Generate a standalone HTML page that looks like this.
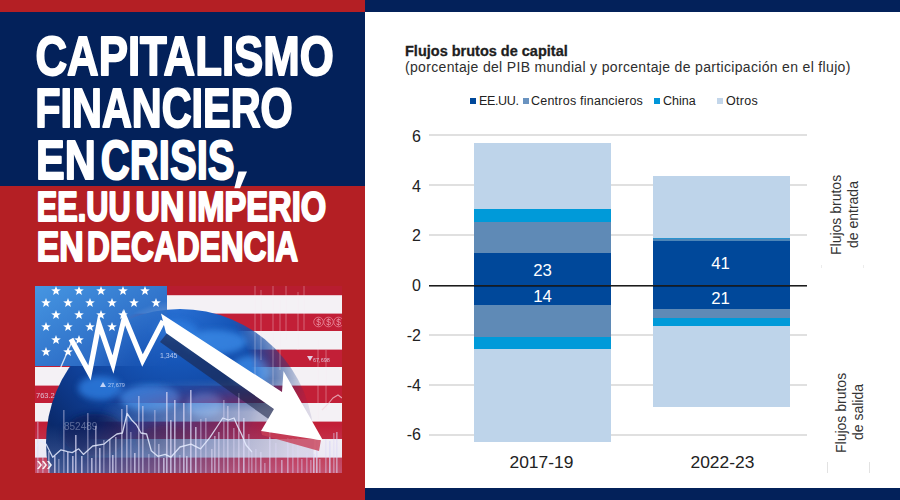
<!DOCTYPE html>
<html><head><meta charset="utf-8">
<style>
*{margin:0;padding:0;box-sizing:border-box}
html,body{width:900px;height:500px;overflow:hidden;background:#fff}
body{position:relative;font-family:"Liberation Sans",sans-serif}
.abs{position:absolute}
#left{left:0;top:0;width:365px;height:500px;background:#b41f24}
#navy{left:0;top:12px;width:365px;height:173.7px;background:#03215a}
#title{left:0;top:0;width:365px;height:300px}
#photo{left:35px;top:286px;width:307px;height:187px;overflow:hidden}
#topbar{left:365px;top:0;width:535px;height:12px;background:#03215a}
#botbar{left:365px;top:488px;width:535px;height:12px;background:#03215a}
.t{color:#222;white-space:nowrap;position:absolute}
.grid{position:absolute;left:429px;width:378px;height:2px;background:#e0e0e0}
.yl{position:absolute;width:30px;left:391px;text-align:right;font-size:16px;color:#222;line-height:16px}
.seg{position:absolute}
.lab{position:absolute;color:#fff;font-size:16.8px;text-align:center;line-height:16px}
.leg{position:absolute;top:98px;width:6px;height:6px}
.lt{position:absolute;top:94px;font-size:12.5px;color:#222;line-height:14px;white-space:nowrap}
.rot{position:absolute;transform-origin:0 0;transform:rotate(-90deg);font-size:14px;color:#333;white-space:nowrap;line-height:13px}
</style></head><body>
<div id="left" class="abs"></div>
<div id="navy" class="abs"></div>
<svg id="title" class="abs" width="365" height="300" viewBox="0 0 365 300">
<g fill="#fff" stroke="#fff" stroke-linejoin="round" font-family="Liberation Sans" font-weight="bold">
<text x="35.44" y="75.0" font-size="55.5" stroke-width="1.9" textLength="298.36" lengthAdjust="spacingAndGlyphs">CAPITALISMO</text>
<text x="35.28" y="127.3" font-size="56" stroke-width="2" textLength="257.52" lengthAdjust="spacingAndGlyphs">FINANCIERO</text>
<text x="35.92" y="179.1" font-size="56" stroke-width="2" textLength="59.90" lengthAdjust="spacingAndGlyphs">EN</text>
<text x="100.84" y="179.1" font-size="56" stroke-width="2" textLength="133.70" lengthAdjust="spacingAndGlyphs">CRISIS</text>
<text x="36.72" y="221.0" font-size="42" stroke-width="2" textLength="93.88" lengthAdjust="spacingAndGlyphs">EE.UU</text>
<text x="135.62" y="221.0" font-size="42" stroke-width="2" textLength="48.82" lengthAdjust="spacingAndGlyphs">UN</text>
<text x="188.06" y="221.0" font-size="42" stroke-width="2" textLength="138.18" lengthAdjust="spacingAndGlyphs">IMPERIO</text>
<text x="36.72" y="260.5" font-size="42" stroke-width="2" textLength="46.98" lengthAdjust="spacingAndGlyphs">EN</text>
<text x="87.04" y="260.5" font-size="42" stroke-width="2" textLength="211.10" lengthAdjust="spacingAndGlyphs">DECADENCIA</text>
<polygon points="238.5,171.5 247,171.5 240,188.3 234.3,188.3" stroke="none"/>
</g>
</svg>
<svg id="photo" class="abs" width="307" height="187" viewBox="35 286 307 187">
<defs>
<linearGradient id="cg" x1="0" y1="0" x2="1" y2="1"><stop offset="0" stop-color="#4696e2"/><stop offset="1" stop-color="#2058b8"/></linearGradient>
<radialGradient id="co" gradientUnits="userSpaceOnUse" cx="178" cy="385" r="85"><stop offset="0" stop-color="#000"/><stop offset="0.55" stop-color="#555"/><stop offset="1" stop-color="#fff"/></radialGradient>
<mask id="cm"><rect x="35" y="286" width="132" height="80" fill="url(#co)"/></mask>
<radialGradient id="gg" gradientUnits="userSpaceOnUse" cx="175" cy="300" r="175"><stop offset="0" stop-color="#2a72d6"/><stop offset="0.35" stop-color="#1656b8"/><stop offset="0.7" stop-color="#0f3f96"/><stop offset="1" stop-color="#0a2a6c"/></radialGradient>
<radialGradient id="gm" gradientUnits="userSpaceOnUse" cx="140" cy="390" r="172"><stop offset="0" stop-color="#fff"/><stop offset="0.66" stop-color="#fff"/><stop offset="1" stop-color="#000"/></radialGradient>
<mask id="gmask"><rect x="35" y="286" width="307" height="187" fill="url(#gm)"/></mask>
<linearGradient id="dg" gradientUnits="userSpaceOnUse" x1="105" y1="400" x2="235" y2="465"><stop offset="0" stop-color="#000"/><stop offset="1" stop-color="#fff"/></linearGradient>
<linearGradient id="vg" gradientUnits="userSpaceOnUse" x1="0" y1="378" x2="0" y2="412"><stop offset="0" stop-color="#000" stop-opacity="1"/><stop offset="1" stop-color="#000" stop-opacity="0"/></linearGradient>
<mask id="mk"><rect x="35" y="286" width="307" height="187" fill="url(#dg)"/><rect x="35" y="286" width="307" height="187" fill="url(#vg)"/></mask>
<filter id="bl" x="-30%" y="-30%" width="160%" height="160%"><feGaussianBlur stdDeviation="3"/></filter>
<filter id="bl1"><feGaussianBlur stdDeviation="0.5"/></filter>
<filter id="bl2"><feGaussianBlur stdDeviation="0.35"/></filter>
<clipPath id="gc"><circle cx="180" cy="443" r="134"/></clipPath>
</defs>
<rect x="35" y="286" width="307" height="187" fill="#f4f1f5"/>
<g fill="#c21f37"><rect x="35" y="277.6" width="307" height="17.4"/><rect x="35" y="313.6" width="307" height="17.4"/><rect x="35" y="349.6" width="307" height="17.4"/><rect x="35" y="385.6" width="307" height="17.4"/><rect x="35" y="421.6" width="307" height="17.4"/><rect x="35" y="457.6" width="307" height="17.4"/></g>
<rect x="35" y="286" width="307" height="9.2" fill="#b81d30"/>
<g mask="url(#gmask)">
<circle cx="180" cy="443" r="134" fill="url(#gg)"/>
<g clip-path="url(#gc)" filter="url(#bl)" opacity="0.8">
<ellipse cx="150" cy="398" rx="30" ry="13" fill="#3b8ae6"/>
<ellipse cx="100" cy="388" rx="22" ry="12" fill="#2f7ee0"/>
<ellipse cx="215" cy="342" rx="32" ry="12" fill="#3b8ae6"/>
<ellipse cx="250" cy="372" rx="20" ry="16" fill="#3b8ae6"/>
<ellipse cx="205" cy="405" rx="18" ry="12" fill="#3b8ae6"/>
<ellipse cx="175" cy="330" rx="22" ry="10" fill="#2f7ee0"/>
<ellipse cx="95" cy="435" rx="32" ry="22" fill="#081f58"/>
<ellipse cx="165" cy="440" rx="30" ry="14" fill="#0a2664"/>
</g>
</g>
<g clip-path="url(#gc)" mask="url(#mk)" opacity="0.8"><rect x="35" y="286" width="307" height="187" fill="#d8d4e4"/><g fill="#c01e40"><rect x="35" y="277.6" width="307" height="17.4"/><rect x="35" y="313.6" width="307" height="17.4"/><rect x="35" y="349.6" width="307" height="17.4"/><rect x="35" y="385.6" width="307" height="17.4"/><rect x="35" y="421.6" width="307" height="17.4"/><rect x="35" y="457.6" width="307" height="17.4"/></g></g>
<rect x="35" y="286" width="132" height="80" fill="url(#cg)" mask="url(#cm)"/>
<g fill="#fff" filter="url(#bl1)"><polygon points="56.0,286.0 57.2,289.3 60.8,289.5 58.0,291.6 58.9,295.0 56.0,293.1 53.1,295.0 54.0,291.6 51.2,289.5 54.8,289.3"/><polygon points="79.0,286.0 80.2,289.3 83.8,289.5 81.0,291.6 81.9,295.0 79.0,293.1 76.1,295.0 77.0,291.6 74.2,289.5 77.8,289.3"/><polygon points="101.0,286.0 102.2,289.3 105.8,289.5 103.0,291.6 103.9,295.0 101.0,293.1 98.1,295.0 99.0,291.6 96.2,289.5 99.8,289.3"/><polygon points="123.0,286.0 124.2,289.3 127.8,289.5 125.0,291.6 125.9,295.0 123.0,293.1 120.1,295.0 121.0,291.6 118.2,289.5 121.8,289.3"/><polygon points="145.0,286.0 146.2,289.3 149.8,289.5 147.0,291.6 147.9,295.0 145.0,293.1 142.1,295.0 143.0,291.6 140.2,289.5 143.8,289.3"/><polygon points="46.0,298.0 47.2,301.3 50.8,301.5 48.0,303.6 48.9,307.0 46.0,305.1 43.1,307.0 44.0,303.6 41.2,301.5 44.8,301.3"/><polygon points="68.0,298.0 69.2,301.3 72.8,301.5 70.0,303.6 70.9,307.0 68.0,305.1 65.1,307.0 66.0,303.6 63.2,301.5 66.8,301.3"/><polygon points="90.0,298.0 91.2,301.3 94.8,301.5 92.0,303.6 92.9,307.0 90.0,305.1 87.1,307.0 88.0,303.6 85.2,301.5 88.8,301.3"/><polygon points="112.0,298.0 113.2,301.3 116.8,301.5 114.0,303.6 114.9,307.0 112.0,305.1 109.1,307.0 110.0,303.6 107.2,301.5 110.8,301.3"/><polygon points="134.0,298.0 135.2,301.3 138.8,301.5 136.0,303.6 136.9,307.0 134.0,305.1 131.1,307.0 132.0,303.6 129.2,301.5 132.8,301.3"/><polygon points="156.0,298.0 157.2,301.3 160.8,301.5 158.0,303.6 158.9,307.0 156.0,305.1 153.1,307.0 154.0,303.6 151.2,301.5 154.8,301.3"/><polygon points="56.0,310.0 57.2,313.3 60.8,313.5 58.0,315.6 58.9,319.0 56.0,317.1 53.1,319.0 54.0,315.6 51.2,313.5 54.8,313.3"/><polygon points="79.0,310.0 80.2,313.3 83.8,313.5 81.0,315.6 81.9,319.0 79.0,317.1 76.1,319.0 77.0,315.6 74.2,313.5 77.8,313.3"/><polygon points="101.0,310.0 102.2,313.3 105.8,313.5 103.0,315.6 103.9,319.0 101.0,317.1 98.1,319.0 99.0,315.6 96.2,313.5 99.8,313.3"/><polygon points="123.0,310.0 124.2,313.3 127.8,313.5 125.0,315.6 125.9,319.0 123.0,317.1 120.1,319.0 121.0,315.6 118.2,313.5 121.8,313.3"/><polygon points="46.0,322.0 47.2,325.3 50.8,325.5 48.0,327.6 48.9,331.0 46.0,329.1 43.1,331.0 44.0,327.6 41.2,325.5 44.8,325.3"/><polygon points="68.0,322.0 69.2,325.3 72.8,325.5 70.0,327.6 70.9,331.0 68.0,329.1 65.1,331.0 66.0,327.6 63.2,325.5 66.8,325.3"/><polygon points="90.0,322.0 91.2,325.3 94.8,325.5 92.0,327.6 92.9,331.0 90.0,329.1 87.1,331.0 88.0,327.6 85.2,325.5 88.8,325.3"/><polygon points="112.0,322.0 113.2,325.3 116.8,325.5 114.0,327.6 114.9,331.0 112.0,329.1 109.1,331.0 110.0,327.6 107.2,325.5 110.8,325.3"/><polygon points="56.0,335.0 57.2,338.3 60.8,338.5 58.0,340.6 58.9,344.0 56.0,342.1 53.1,344.0 54.0,340.6 51.2,338.5 54.8,338.3"/><polygon points="79.0,335.0 80.2,338.3 83.8,338.5 81.0,340.6 81.9,344.0 79.0,342.1 76.1,344.0 77.0,340.6 74.2,338.5 77.8,338.3"/><polygon points="46.0,347.0 47.2,350.3 50.8,350.5 48.0,352.6 48.9,356.0 46.0,354.1 43.1,356.0 44.0,352.6 41.2,350.5 44.8,350.3"/><polygon points="68.0,347.0 69.2,350.3 72.8,350.5 70.0,352.6 70.9,356.0 68.0,354.1 65.1,356.0 66.0,352.6 63.2,350.5 66.8,350.3"/></g>
<linearGradient id="lb" x1="0" y1="0" x2="0" y2="1"><stop offset="0" stop-color="#c8c8f0" stop-opacity="0"/><stop offset="1" stop-color="#c8c8f0" stop-opacity="0.3"/></linearGradient>
<rect x="35" y="425" width="307" height="48" fill="url(#lb)"/>
<g fill="#dcd8f6" filter="url(#bl2)"><rect x="37" y="422" width="1.6" height="51" opacity="0.4"/><rect x="42" y="457" width="1.6" height="16" opacity="0.4"/><rect x="48" y="451" width="1.6" height="22" opacity="0.55"/><rect x="54" y="456" width="1.6" height="17" opacity="0.7"/><rect x="58" y="459" width="1.6" height="14" opacity="0.4"/><rect x="63" y="410" width="1.6" height="63" opacity="0.4"/><rect x="67" y="452" width="1.6" height="21" opacity="0.7"/><rect x="72" y="456" width="1.6" height="17" opacity="0.7"/><rect x="75" y="435" width="1.6" height="38" opacity="0.7"/><rect x="81" y="456" width="1.6" height="17" opacity="0.7"/><rect x="87" y="413" width="1.6" height="60" opacity="0.4"/><rect x="91" y="458" width="1.6" height="15" opacity="0.7"/><rect x="95" y="426" width="1.6" height="47" opacity="0.55"/><rect x="99" y="448" width="1.6" height="25" opacity="0.7"/><rect x="103" y="440" width="1.6" height="33" opacity="0.4"/><rect x="109" y="439" width="1.6" height="34" opacity="0.55"/><rect x="112" y="455" width="1.6" height="18" opacity="0.7"/><rect x="115" y="437" width="1.6" height="36" opacity="0.55"/><rect x="121" y="409" width="1.6" height="64" opacity="0.55"/><rect x="126" y="405" width="1.6" height="68" opacity="0.55"/><rect x="130" y="432" width="1.6" height="41" opacity="0.4"/><rect x="134" y="453" width="1.6" height="20" opacity="0.7"/><rect x="138" y="396" width="1.6" height="77" opacity="0.55"/><rect x="142" y="406" width="1.6" height="67" opacity="0.55"/><rect x="148" y="454" width="1.6" height="19" opacity="0.4"/><rect x="154" y="410" width="1.6" height="63" opacity="0.4"/><rect x="158" y="444" width="1.6" height="29" opacity="0.55"/><rect x="163" y="458" width="1.6" height="15" opacity="0.7"/><rect x="166" y="392" width="1.6" height="81" opacity="0.7"/><rect x="170" y="420" width="1.6" height="53" opacity="0.7"/><rect x="174" y="400" width="1.6" height="73" opacity="0.7"/><rect x="179" y="455" width="1.6" height="18" opacity="0.4"/><rect x="183" y="403" width="1.6" height="70" opacity="0.7"/><rect x="186" y="456" width="1.6" height="17" opacity="0.7"/><rect x="190" y="390" width="1.6" height="83" opacity="0.7"/><rect x="195" y="427" width="1.6" height="46" opacity="0.7"/><rect x="200" y="419" width="1.6" height="54" opacity="0.4"/><rect x="205" y="418" width="1.6" height="55" opacity="0.4"/><rect x="211" y="449" width="1.6" height="24" opacity="0.55"/><rect x="214" y="436" width="1.6" height="37" opacity="0.55"/><rect x="218" y="432" width="1.6" height="41" opacity="0.55"/><rect x="223" y="400" width="1.6" height="73" opacity="0.4"/><rect x="227" y="406" width="1.6" height="67" opacity="0.55"/><rect x="233" y="428" width="1.6" height="45" opacity="0.4"/><rect x="238" y="393" width="1.6" height="80" opacity="0.55"/><rect x="243" y="418" width="1.6" height="55" opacity="0.7"/><rect x="248" y="434" width="1.6" height="39" opacity="0.4"/><rect x="251" y="452" width="1.6" height="21" opacity="0.4"/><rect x="255" y="449" width="1.6" height="24" opacity="0.4"/><rect x="260" y="452" width="1.6" height="21" opacity="0.55"/><rect x="264" y="463" width="1.6" height="10" opacity="0.4"/><rect x="269" y="429" width="1.6" height="44" opacity="0.55"/><rect x="275" y="443" width="1.6" height="30" opacity="0.4"/><rect x="281" y="460" width="1.6" height="13" opacity="0.55"/><rect x="287" y="438" width="1.6" height="35" opacity="0.55"/><rect x="292" y="438" width="1.6" height="35" opacity="0.4"/><rect x="297" y="438" width="1.6" height="35" opacity="0.4"/><rect x="301" y="459" width="1.6" height="14" opacity="0.4"/><rect x="306" y="453" width="1.6" height="20" opacity="0.4"/><rect x="310" y="460" width="1.6" height="13" opacity="0.4"/><rect x="313" y="454" width="1.6" height="19" opacity="0.7"/><rect x="316" y="440" width="1.6" height="33" opacity="0.7"/><rect x="319" y="459" width="1.6" height="14" opacity="0.4"/><rect x="325" y="439" width="1.6" height="34" opacity="0.4"/><rect x="329" y="441" width="1.6" height="32" opacity="0.7"/><rect x="333" y="433" width="1.6" height="40" opacity="0.4"/><rect x="336" y="432" width="1.6" height="41" opacity="0.55"/></g>
<g stroke="#f6e8f0" stroke-width="1" opacity="0.35" filter="url(#bl2)"><line x1="255" y1="286" x2="255" y2="380"/><line x1="261" y1="290" x2="261" y2="360"/><line x1="273" y1="286" x2="273" y2="395"/><line x1="280" y1="300" x2="280" y2="370"/><line x1="286" y1="286" x2="286" y2="340"/><line x1="298" y1="292" x2="298" y2="350"/><line x1="304" y1="286" x2="304" y2="330"/><line x1="318" y1="340" x2="318" y2="420"/><line x1="326" y1="350" x2="326" y2="410"/></g>
<polyline points="35,448.8 40.6,440.5 46.2,444.2 52.7,457.2 61,449.8 67.6,451.6 72.2,452.6 78.7,448.8 83.4,454.4 92.7,446 103.8,444.2 109.4,439.5 116.9,434 122.4,433 127.1,413.5 131.7,420 136.4,424.7 141,433 146.6,434 151.3,450.7 157.8,456.3 165.2,454.4 170.8,457.2 180,447 191,444.2 200.5,448.8 209.8,437.7 217.2,426.5 222.8,418 228.4,420 234,418 237.7,426.5 241.4,434 246,445 252,452" fill="none" stroke="#e6ecff" stroke-width="1.3" stroke-linejoin="round" opacity="0.85"/>
<polyline points="322,410 328,404 333,398 338,395 342,398" fill="none" stroke="#f4d0dc" stroke-width="1.1" opacity="0.7"/>
<g font-family="Liberation Sans" fill="#e8ecff">
<text x="160" y="357.5" font-size="7" opacity="0.75">1,345</text>
<text x="108" y="387" font-size="5.5" opacity="0.7">27,679</text>
<polygon points="100,387 103,382 106,387" opacity="0.8"/>
<text x="36" y="397.5" font-size="7.5" opacity="0.75">763.2</text>
<text x="64" y="429.5" font-size="10" opacity="0.35">852489</text>
<text x="313" y="361.5" font-size="5.5" opacity="0.75">67,698</text>
<polygon points="307,356 313,356 310,361" opacity="0.85"/>
</g>
<g fill="none" stroke="#f0a0b0" stroke-width="0.9" opacity="0.7"><circle cx="318.5" cy="322" r="4.8"/><circle cx="328.5" cy="322" r="4.8"/><circle cx="338.5" cy="322" r="4.8"/></g>
<g font-family="Liberation Sans" fill="#f4b0c0" font-size="8.5" opacity="0.8" text-anchor="middle"><text x="318.5" y="325.2">$</text><text x="328.5" y="325.2">$</text><text x="338.5" y="325.2">$</text></g>
<polygon points="168,332 276,410 270,420 160,342" fill="#1c2448" opacity="0.6"/>
<polyline points="60,369 73,339" fill="none" stroke="#fff" stroke-width="1.3" opacity="0.8"/>
<polyline points="71,339 89.5,373 99,324 113,364.5 124.5,317 142.5,360.5 163,321" fill="none" stroke="#fff" stroke-width="5.2" stroke-linejoin="miter" stroke-miterlimit="30"/>
<polygon points="261,431 321,440 319,451 262,435" fill="#c84058" opacity="0.8"/>
<polygon points="161,313.5 282,392 283.5,371 323,440.5 261,431 274,409 166,333" fill="#fff"/>
<g fill="#fff" opacity="0.9"><polygon points="37,461 40,465 37,469 39,469 42,465 39,461"/><polygon points="42,461 45,465 42,469 44,469 47,465 44,461"/><polygon points="47,461 50,465 47,469 49,469 52,465 49,461"/></g>
</svg>
<div id="topbar" class="abs"></div>
<div id="botbar" class="abs"></div>

<!-- chart -->
<div class="t" style="left:405px;top:42.5px;font-size:14.5px;font-weight:bold;color:#1e1e1e;-webkit-text-stroke:0.3px #1e1e1e">Flujos brutos de capital</div>
<div class="t" style="left:405px;top:58.5px;font-size:14px;letter-spacing:0.33px;color:#2e2e2e">(porcentaje del PIB mundial y porcentaje de participación en el flujo)</div>

<div class="leg" style="left:470px;background:#00489a"></div><div class="lt" style="left:479px;letter-spacing:-0.35px">EE.UU.</div>
<div class="leg" style="left:523px;background:#6a93c0"></div><div class="lt" style="left:531px;letter-spacing:0.23px">Centros financieros</div>
<div class="leg" style="left:654px;background:#0096d9"></div><div class="lt" style="left:663px">China</div>
<div class="leg" style="left:717px;background:#c3d6ea"></div><div class="lt" style="left:726px;letter-spacing:0.3px">Otros</div>

<div class="grid" style="top:134px"></div>
<div class="grid" style="top:184px"></div>
<div class="grid" style="top:234px"></div>
<div class="grid" style="top:334px"></div>
<div class="grid" style="top:384px"></div>
<div class="grid" style="top:434px"></div>

<div class="yl" style="top:128.5px">6</div>
<div class="yl" style="top:178.5px">4</div>
<div class="yl" style="top:228px">2</div>
<div class="yl" style="top:278px">0</div>
<div class="yl" style="top:327.5px">-2</div>
<div class="yl" style="top:377.5px">-4</div>
<div class="yl" style="top:427px">-6</div>

<!-- bar 1 -->
<div class="seg" style="left:474px;width:137px;top:143px;height:66px;background:#bed4ea"></div>
<div class="seg" style="left:474px;width:137px;top:209px;height:13px;background:#009ad9"></div>
<div class="seg" style="left:474px;width:137px;top:222px;height:31px;background:#5f8ab6"></div>
<div class="seg" style="left:474px;width:137px;top:253px;height:52px;background:#00489a"></div>
<div class="seg" style="left:474px;width:137px;top:305px;height:32px;background:#5f8ab6"></div>
<div class="seg" style="left:474px;width:137px;top:337px;height:12px;background:#009ad9"></div>
<div class="seg" style="left:474px;width:137px;top:349px;height:93px;background:#bed4ea"></div>
<!-- bar 2 -->
<div class="seg" style="left:653px;width:137px;top:176px;height:62px;background:#bed4ea"></div>
<div class="seg" style="left:653px;width:137px;top:238px;height:1px;background:#2a93cf"></div>
<div class="seg" style="left:653px;width:137px;top:239px;height:2px;background:#4d86b8"></div>
<div class="seg" style="left:653px;width:137px;top:241px;height:68px;background:#00489a"></div>
<div class="seg" style="left:653px;width:137px;top:309px;height:9px;background:#5f8ab6"></div>
<div class="seg" style="left:653px;width:137px;top:318px;height:8px;background:#009ad9"></div>
<div class="seg" style="left:653px;width:137px;top:326px;height:81px;background:#bed4ea"></div>

<div class="grid" style="top:285px;height:1px;background:#1c1c1c"></div><div class="grid" style="top:286px;height:1px;background:rgba(0,0,0,0.5)"></div>

<div class="lab" style="left:502.5px;width:80px;top:262.5px">23</div>
<div class="lab" style="left:502.5px;width:80px;top:288.5px">14</div>
<div class="lab" style="left:680.5px;width:80px;top:256px">41</div>
<div class="lab" style="left:680.5px;width:80px;top:291px">21</div>

<div class="t" style="left:509.5px;top:451.5px;font-size:17.4px">2017-19</div>
<div class="t" style="left:690.5px;top:451.5px;font-size:17.4px">2022-23</div>

<div class="rot" style="left:830px;top:255px">Flujos brutos</div>
<div class="rot" style="left:847px;top:248px">de entrada</div>
<div class="rot" style="left:835px;top:453px">Flujos brutos</div>
<div class="rot" style="left:852px;top:440px">de salida</div>
<div class="abs" style="left:827px;top:462px;width:1px;height:11px;background:#e2e2e2"></div>
<div class="abs" style="left:869px;top:462px;width:1px;height:11px;background:#e2e2e2"></div>
<div class="abs" style="left:821px;top:265px;width:1px;height:3px;background:#ececec"></div>
<div class="abs" style="left:863px;top:265px;width:1px;height:3px;background:#ececec"></div>
</body></html>
